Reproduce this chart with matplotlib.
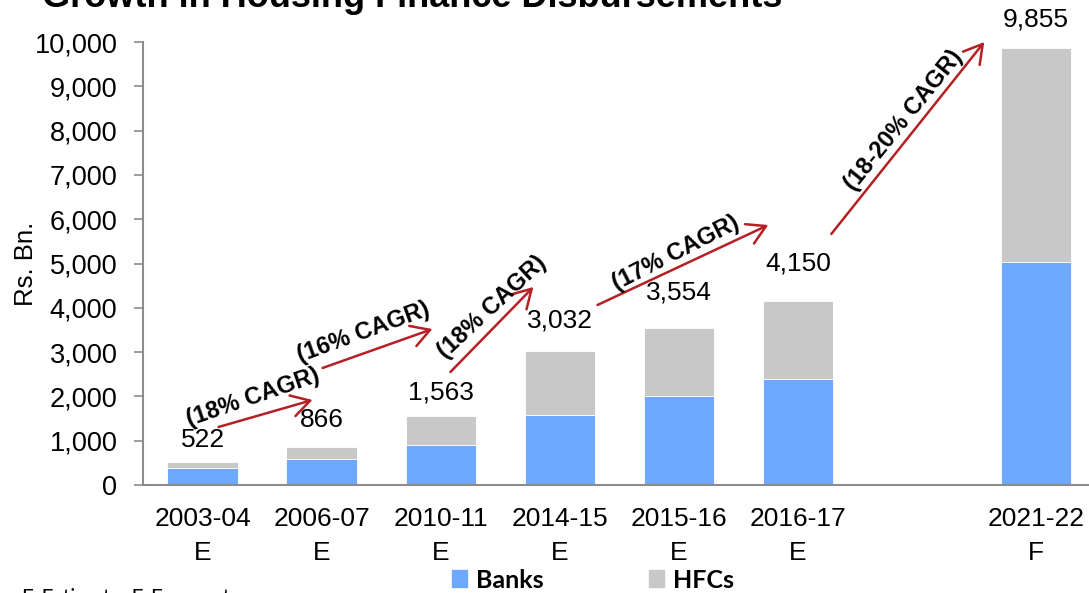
import numpy as np
import matplotlib
matplotlib.use("Agg")
import matplotlib.pyplot as plt
from matplotlib.patches import Patch

# ---------------- data ----------------
categories = ["2003-04\nE", "2006-07\nE", "2010-11\nE", "2014-15\nE",
              "2015-16\nE", "2016-17\nE", "", "2021-22\nF"]
banks = [390, 590, 910, 1580, 2010, 2390, np.nan, 5040]
totals = [522, 866, 1563, 3032, 3554, 4150, np.nan, 9855]
hfcs = [t - b for t, b in zip(totals, banks)]
yticks = [0, 1000, 2000, 3000, 4000, 5000, 6000, 7000, 8000, 9000, 10000]

# CAGR annotations: (text, start(x, y), end(x, y), text centre(x, y), rotation)
cagr_labels = ["(18% CAGR)", "(16% CAGR)", "(18% CAGR)", "(17% CAGR)", "(18-20% CAGR)"]
cagr_start = [(0.134, 1309), (1.008, 2641), (2.082, 2551), (3.317, 4063), (5.281, 5666)]
cagr_end = [(0.924, 1919), (1.931, 3521), (2.779, 4470), (4.752, 5869), (6.566, 10000)]
cagr_text = [(0.428, 1986), (1.352, 3454), (2.435, 4018), (3.971, 5237), (5.886, 8239)]
cagr_rot = [19, 20, 43, 27, 51]

# label offsets above bars (points)
label_offsets = [11, 14, 12, 17, 20, 22, 0, 16]

BLUE = "#6FA8FF"
GREY = "#C8C8C8"
RED = "#B52025"
FONT = "Liberation Sans"

W, H = 1089, 593
fig = plt.figure(figsize=(W / 100, H / 100), dpi=100)
ax = fig.add_axes([143 / W, (H - 485) / H, (1095.5 - 143) / W, (485 - 42) / H])

x = np.arange(len(categories))
bw = 0.59
ax.bar(x, banks, bw, color=BLUE, edgecolor="white", linewidth=0.6, label="Banks", zorder=2)
ax.bar(x, hfcs, bw, bottom=banks, color=GREY, edgecolor="white", linewidth=0.6, label="HFCs", zorder=2)

for xi, t, off in zip(x, totals, label_offsets):
    if np.isnan(t):
        continue
    ax.annotate(f"{int(t):,}", (xi, t), xytext=(0, off), textcoords="offset points",
                ha="center", va="baseline", fontsize=19, family=FONT, color="black")

for lab, s, e, tp, rot in zip(cagr_labels, cagr_start, cagr_end, cagr_text, cagr_rot):
    ax.annotate("", xy=e, xytext=s,
                arrowprops=dict(arrowstyle="->,head_length=0.55,head_width=0.32",
                                color=RED, lw=1.8, mutation_scale=24,
                                shrinkA=0, shrinkB=0), zorder=3)
    ax.text(tp[0], tp[1], lab, rotation=rot,
            ha="center", va="center", fontsize=17, fontweight="bold", family=FONT, zorder=4)

ax.set_xlim(-0.5, len(categories) - 0.5)
ax.set_ylim(0, 10000)
ax.set_yticks(yticks)
ax.set_yticklabels([f"{v:,}" for v in yticks], fontsize=19.5, family=FONT)
ax.set_xticks(x)
ax.set_xticklabels(categories, fontsize=19, family=FONT, linespacing=1.5)
ax.tick_params(axis="x", length=0, pad=16)
ax.tick_params(axis="y", length=6.5, width=1.2, color="#8C8C8C", pad=12, direction="out")
for side in ["top", "right"]:
    ax.spines[side].set_visible(False)
for side in ["left", "bottom"]:
    ax.spines[side].set_color("#8C8C8C")
    ax.spines[side].set_linewidth(1.5)
ax.set_ylabel("Rs. Bn.", fontsize=18.5, family=FONT)
ax.yaxis.set_label_coords(-0.110, 0.5)

fig.text(42 / W, 1 - 7 / H, "Growth in Housing Finance Disbursements",
         fontsize=26, fontweight="bold", family=FONT, va="baseline", ha="left")
fig.text(22 / W, 1 - 587 / H, "E-Estimate, F-Forecast", fontsize=15, family="Lato",
         va="top", ha="left")

handles = [Patch(color=BLUE, label="Banks"), Patch(color=GREY, label="HFCs")]
fig.legend(handles=handles, loc="center", bbox_to_anchor=(593 / W, 1 - 580 / H),
           ncol=2, frameon=False, handlelength=0.6, handleheight=0.65, handletextpad=0.35,
           columnspacing=4.2, borderpad=0, prop=dict(family="Lato", weight="bold", size=18))

fig.savefig("out.png", dpi=100)
